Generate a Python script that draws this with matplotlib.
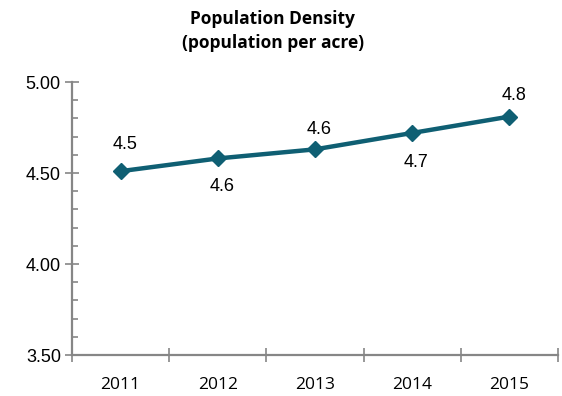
import matplotlib.pyplot as plt
from matplotlib.ticker import MultipleLocator

# chart data
years = ['2011', '2012', '2013', '2014', '2015']
density = [4.51, 4.58, 4.63, 4.72, 4.81]
labels = ['4.5', '4.6', '4.6', '4.7', '4.8']

# label offsets in points (above / below the point)
label_dy = [19, -20, 14, -21, 15]

teal = '#0F5F73'
grey = '#868686'

fig = plt.figure(figsize=(5.62, 3.96), dpi=100)
ax = fig.add_axes([0.1281, 0.1035, 0.8648, 0.6894])

x = list(range(len(years)))
ax.plot(x, density, color=teal, linewidth=3.2, marker='D', markersize=8,
        markerfacecolor=teal, markeredgecolor=teal, solid_capstyle='round')

for xi, yi, lab, dy in zip(x, density, labels, label_dy):
    ax.annotate(lab, (xi, yi), xytext=(3, dy), textcoords='offset points',
                ha='center', va='center', fontsize=13,
                family='Liberation Sans', color='black')

ax.set_xlim(-0.5, len(years) - 0.5)
ax.set_ylim(3.5, 5.0)

# y axis ticks
ax.yaxis.set_minor_locator(MultipleLocator(0.1))
ax.set_yticks([3.5, 4.0, 4.5, 5.0])
ax.set_yticklabels(['3.50', '4.00', '4.50', '5.00'], family='Liberation Sans', fontsize=13)
ax.tick_params(axis='y', which='major', direction='inout', length=10, width=1.2, color=grey, pad=3)
ax.tick_params(axis='y', which='minor', direction='in', length=4, width=1.2, color=grey)

# x axis: labels at category centres, ticks at boundaries
ax.set_xticks(x)
ax.set_xticklabels(years, family='Open Sans', fontsize=12.5)
ax.set_xticks([i - 0.5 for i in range(len(years) + 1)], minor=True)
ax.tick_params(axis='x', which='major', length=0, pad=16)
ax.tick_params(axis='x', which='minor', direction='inout', length=10, width=1.2, color=grey)

for side in ['top', 'right']:
    ax.spines[side].set_visible(False)
for side in ['left', 'bottom']:
    ax.spines[side].set_color(grey)
    ax.spines[side].set_linewidth(1.6)

fig.text(0.485, 0.922, 'Population Density\n(population per acre)', ha='center', va='center',
         fontsize=12.5, fontweight='bold', family='Open Sans', linespacing=1.45)

fig.savefig('out.png', dpi=100)
